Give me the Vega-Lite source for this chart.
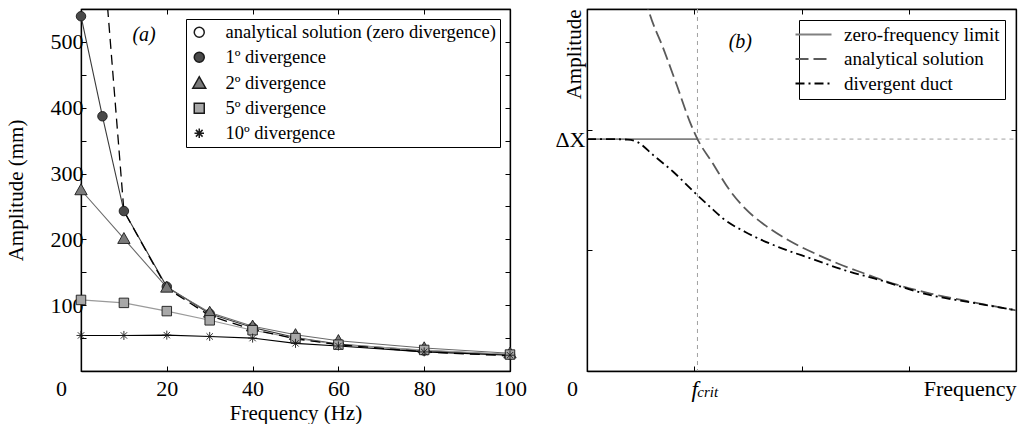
{
  "$schema": "https://vega.github.io/schema/vega-lite/v6.json",
  "padding": {"left": 4, "top": 7, "right": 0, "bottom": 0},
  "spacing": 26,
  "resolve": {
    "scale": {"shape": "independent", "fill": "independent", "stroke": "independent", "strokeDash": "independent"},
    "legend": {"shape": "independent", "fill": "independent", "stroke": "independent", "strokeDash": "independent"}
  },
  "config": {
    "font": "Liberation Serif",
    "view": {"stroke": "black", "strokeWidth": 1.2},
    "axis": {"domainColor": "black", "domainWidth": 1.3, "tickColor": "black", "tickSize": -5, "tickWidth": 1, "labelColor": "black", "titleColor": "black", "grid": false, "labelFont": "Liberation Serif", "titleFont": "Liberation Serif", "labelFontSize": 22, "titleFontSize": 21, "titleFontWeight": "normal", "labelFlush": false, "labelOverlap": false},
    "legend": {"labelFont": "Liberation Serif", "labelFontSize": 18.5, "labelColor": "black", "strokeColor": "black", "fillColor": "white", "labelLimit": 0}
  },
  "datasets": {
    "divA": [
      {"series": "1º divergence", "f": 0, "A": 539},
      {"series": "1º divergence", "f": 5, "A": 387},
      {"series": "1º divergence", "f": 10, "A": 243},
      {"series": "1º divergence", "f": 20, "A": 128},
      {"series": "1º divergence", "f": 30, "A": 87},
      {"series": "1º divergence", "f": 40, "A": 66},
      {"series": "1º divergence", "f": 50, "A": 51},
      {"series": "1º divergence", "f": 60, "A": 41},
      {"series": "1º divergence", "f": 80, "A": 31},
      {"series": "1º divergence", "f": 100, "A": 25},
      {"series": "2º divergence", "f": 0, "A": 275},
      {"series": "2º divergence", "f": 10, "A": 201},
      {"series": "2º divergence", "f": 20, "A": 127},
      {"series": "2º divergence", "f": 30, "A": 89},
      {"series": "2º divergence", "f": 40, "A": 68},
      {"series": "2º divergence", "f": 50, "A": 55},
      {"series": "2º divergence", "f": 60, "A": 46},
      {"series": "2º divergence", "f": 80, "A": 35},
      {"series": "2º divergence", "f": 100, "A": 27},
      {"series": "5º divergence", "f": 0, "A": 108},
      {"series": "5º divergence", "f": 10, "A": 103.5},
      {"series": "5º divergence", "f": 20, "A": 91},
      {"series": "5º divergence", "f": 30, "A": 77},
      {"series": "5º divergence", "f": 40, "A": 62},
      {"series": "5º divergence", "f": 50, "A": 50},
      {"series": "5º divergence", "f": 60, "A": 40},
      {"series": "5º divergence", "f": 80, "A": 32},
      {"series": "5º divergence", "f": 100, "A": 25},
      {"series": "10º divergence", "f": 0, "A": 54},
      {"series": "10º divergence", "f": 10, "A": 54},
      {"series": "10º divergence", "f": 20, "A": 54.5},
      {"series": "10º divergence", "f": 30, "A": 52.5},
      {"series": "10º divergence", "f": 40, "A": 50},
      {"series": "10º divergence", "f": 50, "A": 42},
      {"series": "10º divergence", "f": 60, "A": 38},
      {"series": "10º divergence", "f": 80, "A": 29},
      {"series": "10º divergence", "f": 100, "A": 24}
    ],
    "anaA": [
      {"f": 5, "A": 650},
      {"f": 10, "A": 243},
      {"f": 20, "A": 126},
      {"f": 30, "A": 84},
      {"f": 40, "A": 63},
      {"f": 50, "A": 49},
      {"f": 60, "A": 40},
      {"f": 80, "A": 29},
      {"f": 100, "A": 23}
    ],
    "labA": [{"f": 14.7, "A": 510, "t": "(a)"}],
    "curvesB": [
      {"series": "zero-frequency limit", "f": 0, "A": 1.922},
      {"series": "zero-frequency limit", "f": 1.03, "A": 1.922},
      {"series": "analytical solution", "f": 0.54, "A": 3.1},
      {"series": "analytical solution", "f": 0.574, "A": 2.99},
      {"series": "analytical solution", "f": 0.713, "A": 2.67},
      {"series": "analytical solution", "f": 0.837, "A": 2.37},
      {"series": "analytical solution", "f": 0.961, "A": 2.06},
      {"series": "analytical solution", "f": 1.03, "A": 1.922},
      {"series": "analytical solution", "f": 1.166, "A": 1.73},
      {"series": "analytical solution", "f": 1.321, "A": 1.51},
      {"series": "analytical solution", "f": 1.476, "A": 1.345},
      {"series": "analytical solution", "f": 1.662, "A": 1.207},
      {"series": "analytical solution", "f": 1.879, "A": 1.083},
      {"series": "analytical solution", "f": 2.096, "A": 0.986},
      {"series": "analytical solution", "f": 2.344, "A": 0.889},
      {"series": "analytical solution", "f": 2.593, "A": 0.806},
      {"series": "analytical solution", "f": 2.716, "A": 0.765},
      {"series": "analytical solution", "f": 3.212, "A": 0.64},
      {"series": "analytical solution", "f": 3.6, "A": 0.57},
      {"series": "analytical solution", "f": 4.0, "A": 0.503},
      {"series": "divergent duct", "f": 0, "A": 1.922},
      {"series": "divergent duct", "f": 0.2, "A": 1.922},
      {"series": "divergent duct", "f": 0.38, "A": 1.917},
      {"series": "divergent duct", "f": 0.465, "A": 1.9},
      {"series": "divergent duct", "f": 0.62, "A": 1.787},
      {"series": "divergent duct", "f": 0.806, "A": 1.649},
      {"series": "divergent duct", "f": 1.023, "A": 1.462},
      {"series": "divergent duct", "f": 1.166, "A": 1.345},
      {"series": "divergent duct", "f": 1.271, "A": 1.262},
      {"series": "divergent duct", "f": 1.476, "A": 1.152},
      {"series": "divergent duct", "f": 1.786, "A": 1.027},
      {"series": "divergent duct", "f": 2.096, "A": 0.93},
      {"series": "divergent duct", "f": 2.42, "A": 0.83},
      {"series": "divergent duct", "f": 2.686, "A": 0.765},
      {"series": "divergent duct", "f": 3.212, "A": 0.627},
      {"series": "divergent duct", "f": 3.6, "A": 0.565},
      {"series": "divergent duct", "f": 4.0, "A": 0.503}
    ],
    "guideH": [{"f": 1.03, "f2": 4, "A": 1.922}],
    "guideV": [{"f": 1.03}],
    "labB": [{"f": 1.43, "A": 2.73, "t": "(b)"}],
    "critB": [{"f": 1, "A": 0, "t": "crit"}]
  },
  "hconcat": [
    {
      "width": 429,
      "height": 362,
      "resolve": {"axis": {"x": "independent", "y": "independent"}},
      "layer": [
        {
          "data": {"name": "divA"},
          "mark": {"type": "line", "strokeWidth": 1.1},
          "encoding": {
            "x": {"field": "f", "type": "quantitative", "scale": {"domain": [0, 100], "nice": false, "zero": false},
              "axis": {"orient": "bottom", "values": [0, 20, 40, 60, 80, 100], "title": "Frequency (Hz)", "labelOffset": {"condition": {"test": "datum.value == 0", "value": -20}, "value": 0}, "labelPadding": 12, "titlePadding": 3}},
            "y": {"field": "A", "type": "quantitative", "scale": {"domain": [0, 550], "nice": false},
              "axis": {"orient": "left", "values": [50, 100, 150, 200, 250, 300, 350, 400, 450, 500], "labelExpr": "datum.value % 100 == 0 ? datum.label : ''", "title": "Amplitude (mm)", "labelPadding": 3, "titlePadding": 24}},
            "stroke": {"field": "series", "type": "nominal", "scale": {"domain": ["1º divergence", "2º divergence", "5º divergence", "10º divergence"], "range": ["#3a3a3a", "#6a6a6a", "#9a9a9a", "#000000"]}, "legend": null}
          }
        },
        {
          "data": {"name": "anaA"},
          "mark": {"type": "line", "stroke": "black", "strokeWidth": 1.3, "strokeDash": [10, 6], "clip": true},
          "encoding": {
            "x": {"field": "f", "type": "quantitative", "axis": {"orient": "top", "values": [20, 40, 60, 80], "labels": false, "title": null}},
            "y": {"field": "A", "type": "quantitative", "axis": {"orient": "right", "values": [50, 100, 150, 200, 250, 300, 350, 400, 450, 500], "labels": false, "title": null}}
          }
        },
        {
          "data": {"name": "divA"},
          "mark": {"type": "point", "filled": true, "size": 90, "stroke": "#1a1a1a", "strokeWidth": 0.9, "opacity": 1},
          "encoding": {
            "x": {"field": "f", "type": "quantitative", "axis": null},
            "y": {"field": "A", "type": "quantitative", "axis": null},
            "fill": {"field": "series", "type": "nominal", "scale": {"domain": ["analytical solution (zero divergence)", "1º divergence", "2º divergence", "5º divergence", "10º divergence"], "range": ["transparent", "#4a4a4a", "#7a7a7a", "#a8a8a8", "#000000"]}, "legend": null},
            "shape": {"field": "series", "type": "nominal",
              "scale": {"domain": ["analytical solution (zero divergence)", "1º divergence", "2º divergence", "5º divergence", "10º divergence"], "range": ["circle", "circle", "M-1.3,1L0,-1.3L1.3,1Z", "square", "M-0.95,0H0.95M0,-0.95V0.95M-0.67,-0.67L0.67,0.67M-0.67,0.67L0.67,-0.67"]},
              "legend": {"title": null, "orient": "top-right", "offset": 10, "padding": 4, "symbolSize": 100, "labelOffset": 17, "rowPadding": 6}
            }
          }
        },
        {
          "data": {"name": "labA"},
          "mark": {"type": "text", "fontSize": 20, "fontStyle": "italic", "align": "center", "baseline": "middle", "color": "black"},
          "encoding": {
            "x": {"field": "f", "type": "quantitative", "axis": null},
            "y": {"field": "A", "type": "quantitative", "axis": null},
            "text": {"field": "t"}
          }
        }
      ]
    },
    {
      "width": 429,
      "height": 362,
      "resolve": {"axis": {"x": "independent", "y": "independent"}},
      "layer": [
        {
          "data": {"name": "guideV"},
          "mark": {"type": "rule", "stroke": "#a0a0a0", "strokeWidth": 1, "strokeDash": [4, 4]},
          "encoding": {
            "x": {"field": "f", "type": "quantitative", "scale": {"domain": [0, 4], "nice": false},
              "axis": {"orient": "bottom", "values": [0, 1, 2, 3, 4], "title": null,
                "labelExpr": "datum.value == 0 ? '0' : datum.value == 1 ? 'f' : datum.value == 4 ? 'Frequency' : ''",
                "labelAlign": {"condition": {"test": "datum.value == 4", "value": "right"}, "value": "center"},
                "labelOffset": {"condition": {"test": "datum.value == 0", "value": -15}, "value": 0},
                "labelFontStyle": {"condition": {"test": "datum.value == 1", "value": "italic"}, "value": "normal"},
                "labelFontSize": {"condition": {"test": "datum.value == 1", "value": 23}, "value": 22},
                "tickOpacity": {"condition": {"test": "datum.value == 0 || datum.value == 4", "value": 0}, "value": 1},
                "labelPadding": 12}}
          }
        },
        {
          "data": {"name": "guideH"},
          "mark": {"type": "rule", "stroke": "#a0a0a0", "strokeWidth": 1, "strokeDash": [4, 4]},
          "encoding": {
            "x": {"field": "f", "type": "quantitative", "axis": {"orient": "top", "values": [1, 2, 3], "labels": false, "title": null}},
            "x2": {"field": "f2"},
            "y": {"field": "A", "type": "quantitative", "scale": {"domain": [0, 3], "nice": false},
              "axis": {"orient": "left", "values": [1, 1.922, 2], "title": "Amplitude", "titleAnchor": "end", "titlePadding": -30,
                "labelExpr": "datum.value == 1.922 ? 'ΔX' : ''",
                "tickOpacity": {"condition": {"test": "datum.value == 1.922", "value": 0}, "value": 1},
                "labelPadding": 7}}
          }
        },
        {
          "data": {"name": "curvesB"},
          "mark": {"type": "line", "strokeWidth": 1.8, "clip": true, "interpolate": "monotone"},
          "encoding": {
            "x": {"field": "f", "type": "quantitative", "axis": null},
            "y": {"field": "A", "type": "quantitative", "axis": {"orient": "right", "values": [1, 2], "labels": false, "title": null}},
            "stroke": {"field": "series", "type": "nominal",
              "scale": {"domain": ["zero-frequency limit", "analytical solution", "divergent duct"], "range": ["#808080", "#5a5a5a", "#000000"]},
              "legend": {"title": null, "orient": "top-right", "offset": 11, "padding": 5, "symbolType": "M-3.6,0H3.6", "symbolSize": 100, "symbolStrokeWidth": 1.8, "labelOffset": 21, "rowPadding": 4.5, "labelFontSize": 19}},
            "strokeDash": {"field": "series", "type": "nominal",
              "scale": {"domain": ["zero-frequency limit", "analytical solution", "divergent duct"], "range": [[1, 0], [13, 5], [9, 4, 2, 4]]},
              "legend": {"title": null, "orient": "top-right", "offset": 11, "padding": 5, "symbolType": "M-3.6,0H3.6", "symbolSize": 100, "symbolStrokeWidth": 1.8, "labelOffset": 21, "rowPadding": 4.5, "labelFontSize": 19}}
          }
        },
        {
          "data": {"name": "labB"},
          "mark": {"type": "text", "fontSize": 20, "fontStyle": "italic", "align": "center", "baseline": "middle", "color": "black"},
          "encoding": {
            "x": {"field": "f", "type": "quantitative", "axis": null},
            "y": {"field": "A", "type": "quantitative", "axis": null},
            "text": {"field": "t"}
          }
        },
        {
          "data": {"name": "critB"},
          "mark": {"type": "text", "fontSize": 15, "fontStyle": "italic", "align": "left", "baseline": "alphabetic", "dx": 3, "dy": 26, "color": "black"},
          "encoding": {
            "x": {"field": "f", "type": "quantitative", "axis": null},
            "y": {"field": "A", "type": "quantitative", "axis": null},
            "text": {"field": "t"}
          }
        }
      ]
    }
  ]
}
